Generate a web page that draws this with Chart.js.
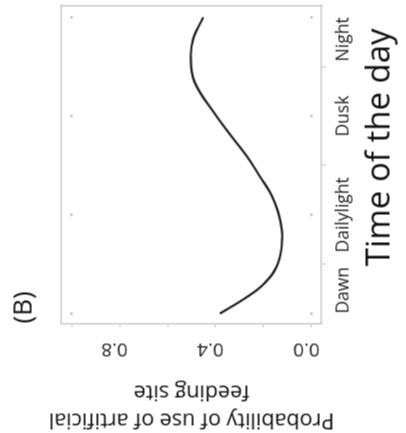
<!DOCTYPE html>
<html><head><meta charset="utf-8">
<script src="https://cdn.jsdelivr.net/npm/chart.js@4/dist/chart.umd.min.js"></script>
<style>
html,body{margin:0;padding:0;background:#fff;overflow:hidden;width:406px;height:433px;}
#wrap{position:absolute;left:-13.5px;top:13.5px;width:433px;height:406px;transform:rotate(-90deg);transform-origin:50% 50%;}
</style></head><body>
<div id="wrap"><canvas id="c" width="433" height="406"></canvas></div>
<script>
// ---- data ----
const panelTitle = '(B)';
const timeCategories = ['Dawn', 'Dailylight', 'Dusk', 'Night'];
const timeTicks = [1, 1.5, 2, 2.5, 3, 3.5, 4];
const curveTime = [1.0, 1.17, 1.30, 1.49, 1.76, 2.0, 2.22, 2.38, 2.59, 2.81, 3.03, 3.35, 3.60, 3.79, 4.0];
const curveProb = [0.382, 0.268, 0.199, 0.143, 0.122, 0.136, 0.171, 0.213, 0.268, 0.338, 0.405, 0.488, 0.503, 0.492, 0.451];
const obsTime = [1, 2, 3, 4, 1, 2, 3, 4];
const obsProb = [0, 0, 0, 0, 1, 1, 1, 1];
const probTicks = [0, 0.2, 0.4, 0.6, 0.8, 1.0];
const probTickLabels = ['0.0', '', '0.4', '', '0.8', ''];
const xTitle = '\u00a0\u00a0\u00a0\u00a0Time of the day';
const yTitle = ['Probability of use of artificial', 'feeding site'];

// ---- chart ----
const FONT = "'Open Sans', 'DejaVu Sans', sans-serif";
const axisGray = '#c4c4c4';
const ctx = document.getElementById('c').getContext('2d');
new Chart(ctx, {
  type: 'line',
  data: {
    datasets: [
      {
        type: 'scatter',
        data: obsTime.map((t, i) => ({x: t, y: obsProb[i]})),
        pointRadius: 1.2,
        pointBackgroundColor: '#b0b0b0',
        pointBorderWidth: 0,
        showLine: false,
        order: 2
      },
      {
        data: curveTime.map((t, i) => ({x: t, y: curveProb[i]})),
        borderColor: '#1e1e1e',
        borderWidth: 2.2,
        pointRadius: 0,
        tension: 0.4,
        fill: false,
        order: 1
      }
    ]
  },
  options: {
    responsive: false,
    animation: false,
    devicePixelRatio: 1,
    layout: {padding: {left: 0, right: 5, top: 0, bottom: 0}},
    plugins: {
      legend: {display: false},
      tooltip: {enabled: false},
      title: {
        display: true, text: panelTitle, position: 'top', align: 'start', fullSize: false,
        color: '#111', font: {family: FONT, size: 26, weight: 'normal', lineHeight: 1.2},
        padding: {top: 8.4, bottom: 21.4}
      }
    },
    scales: {
      x: {
        type: 'linear', position: 'bottom', min: 0.9, max: 4.12,
        afterBuildTicks: s => { s.ticks = timeTicks.map(v => ({value: v})); },
        afterFit: s => { s.height = 85; },
        grid: {display: true, drawOnChartArea: false, drawTicks: true, tickLength: 4,
               tickColor: c => (c.tick && Number.isInteger(c.tick.value)) ? 'rgba(0,0,0,0)' : axisGray},
        border: {display: true, color: axisGray, width: 1.3},
        ticks: {autoSkip: false, maxRotation: 0, minRotation: 0, align: 'inner', padding: 8,
                color: '#222', font: {family: FONT, size: 17.5},
                callback: v => Number.isInteger(v) ? timeCategories[v - 1] : ''},
        title: {display: true, text: xTitle, color: '#111', font: {family: FONT, size: 33, lineHeight: 1.2},
                padding: {top: 0, bottom: 7}}
      },
      y: {
        type: 'linear', position: 'left', min: -0.0417, max: 1.0417,
        afterBuildTicks: s => { s.ticks = probTicks.map(v => ({value: v})); },
        afterFit: s => { s.width = 110; },
        grid: {display: true, drawOnChartArea: false, drawTicks: true, tickLength: 4, tickColor: axisGray},
        border: {display: true, color: axisGray, width: 1.3},
        ticks: {autoSkip: false, minRotation: 90, maxRotation: 90, crossAlign: 'center', padding: 8.5,
                labelOffset: -5, color: '#222', font: {family: FONT, size: 19},
                callback: (v, i) => probTickLabels[i]},
        title: {display: true, text: yTitle, color: '#111', font: {family: FONT, size: 21.5, lineHeight: 1.3},
                padding: {top: 0, bottom: 0}}
      },
      x2: {
        type: 'linear', position: 'top', min: 0, max: 1,
        afterFit: s => { s.height = 0; },
        grid: {display: true, drawOnChartArea: false, drawTicks: false},
        border: {display: true, color: axisGray, width: 1.3},
        ticks: {display: false}
      },
      y2: {
        type: 'linear', position: 'right', min: 0, max: 1,
        afterFit: s => { s.width = 0; },
        grid: {display: true, drawOnChartArea: false, drawTicks: false},
        border: {display: true, color: axisGray, width: 1.3},
        ticks: {display: false}
      }
    }
  }
});
</script>
</body></html>
